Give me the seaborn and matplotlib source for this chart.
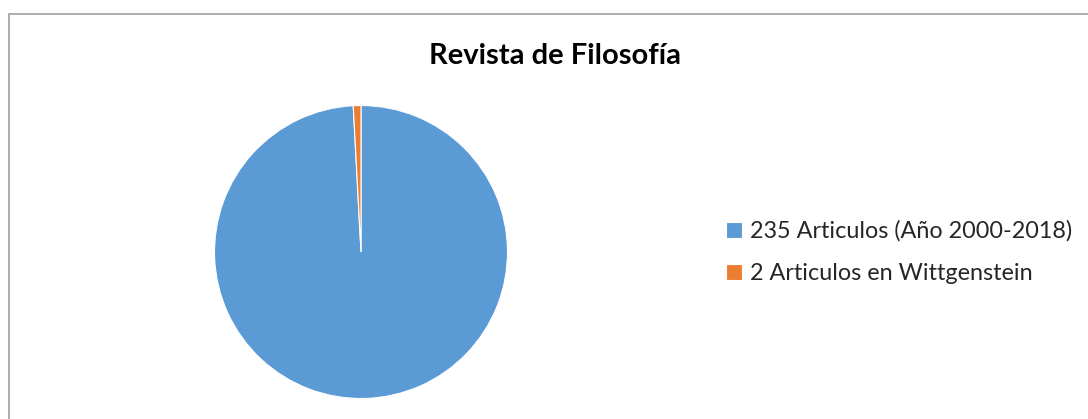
import matplotlib
matplotlib.use("Agg")
import matplotlib.pyplot as plt
from matplotlib.patches import Rectangle
import seaborn as sns

# chart data
labels = ["235 Articulos (Año 2000-2018)", "2 Articulos en Wittgenstein"]
values = [235, 2]
colors = ["#5B9BD5", "#ED7D31"]
title = "Revista de Filosofía"

sns.set_theme(style="white")
plt.rcParams['font.family'] = ['Lato', 'DejaVu Sans']

W, H = 1088, 419
fig = plt.figure(figsize=(W / 100, H / 100), dpi=100)
fig.patch.set_facecolor("white")

# chart frame (cut off on the right and bottom)
fig.patches.append(Rectangle((8.5 / W, -0.05), 1.1, (H - 14.5) / H + 0.05,
                             transform=fig.transFigure, fill=False,
                             edgecolor="#a0a0a0", lw=1.2))

cx, cy, r = 361, 252, 146.5
ax = fig.add_axes([(cx - r) / W, (H - cy - r) / H, 2 * r / W, 2 * r / H])
wedges, _ = ax.pie(values, colors=colors, startangle=90, counterclock=False,
                   wedgeprops=dict(edgecolor="white", linewidth=0.8))
ax.set_xlim(-1, 1)
ax.set_ylim(-1, 1)
ax.set_aspect("auto")
ax.axis("off")

fig.text(555 / W, 1 - 56 / H, title, ha="center", va="center",
         fontsize=21, fontweight="bold", color="#000000")

fig.legend(wedges, labels, loc="center left",
           bbox_to_anchor=(705 / W, 1 - 252 / H), frameon=False,
           fontsize=16.8, handlelength=0.68, handleheight=0.68,
           handletextpad=0.35, labelspacing=0.9)

fig.savefig("out.png", dpi=100)
